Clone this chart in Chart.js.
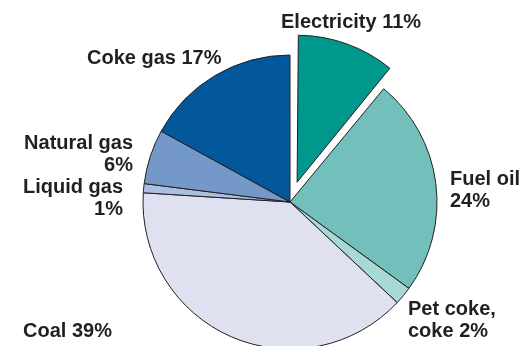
<!DOCTYPE html>
<html>
<head>
<meta charset="utf-8">
<script src="https://cdn.jsdelivr.net/npm/chart.js@4/dist/chart.umd.min.js"></script>
<style>
  html, body { margin: 0; padding: 0; background: #ffffff; overflow: hidden; }
  #wrap { width: 531px; height: 346px; }
</style>
</head>
<body>
<div id="wrap"><canvas id="energyPie" width="531" height="346"></canvas></div>
<script>
// energy sources, clockwise from 12 o'clock
var sources = ['Electricity', 'Fuel oil', 'Pet coke, coke', 'Coal', 'Liquid gas', 'Natural gas', 'Coke gas'];
var shares = [11, 24, 2, 39, 1, 6, 17];
var sliceColors = ['#00978c', '#72bfbc', '#a9d9d5', '#dfe1f1', '#aabfe1', '#7498c7', '#03589c'];
// arc offsets are drawn at a quarter of the value, so 84 pulls the slice out ~21px
var sliceOffsets = [84, 0, 0, 0, 0, 0, 0];

// where each label sits: left/right anchor, first baseline, words before the line break
var labelPlaces = [
    { x: 281, y: 28,  align: 'left',  breakAt: 0 },
    { x: 450, y: 185, align: 'left',  breakAt: 2 },
    { x: 408, y: 315, align: 'left',  breakAt: 2 },
    { x: 23,  y: 337, align: 'left',  breakAt: 0 },
    { x: 123, y: 193, align: 'right', breakAt: 2 },
    { x: 133, y: 149, align: 'right', breakAt: 2 },
    { x: 87,  y: 64,  align: 'left',  breakAt: 0 }
];

var pieRadius = 147;
var textColor = '#231f20';
var lineHeight = 22;

// an offset arc also grows by part of its offset; pull it back to the pie radius
var keepRadius = {
    id: 'keepRadius',
    beforeDatasetsDraw: function(chart) {
        chart.getDatasetMeta(0).data.forEach(function(arc, i) {
            var pull = sliceOffsets[i] / 4;
            var fix = 1 - Math.sin(Math.min(Math.PI, arc.circumference));
            arc.outerRadius = pieRadius - pull * fix;
        });
    }
};

var sliceLabels = {
    id: 'sliceLabels',
    afterDraw: function(chart) {
        var ctx = chart.ctx;
        ctx.save();
        ctx.font = 'bold 20px "Liberation Sans", Arial, sans-serif';
        ctx.fillStyle = textColor;
        ctx.textBaseline = 'alphabetic';
        for (var i = 0; i < sources.length; i++) {
            var place = labelPlaces[i];
            var words = (sources[i] + ' ' + shares[i] + '%').split(' ');
            var lines = place.breakAt > 0
                ? [words.slice(0, place.breakAt).join(' '), words.slice(place.breakAt).join(' ')]
                : [words.join(' ')];
            ctx.textAlign = place.align;
            for (var j = 0; j < lines.length; j++) {
                ctx.fillText(lines[j], place.x, place.y + j * lineHeight);
            }
        }
        ctx.restore();
    }
};

var ctx = document.getElementById('energyPie');
var pie = new Chart(ctx, {
    type: 'pie',
    data: {
        labels: sources,
        datasets: [{
            data: shares,
            backgroundColor: sliceColors,
            borderColor: '#231f20',
            borderWidth: 1,
            offset: sliceOffsets,
            hoverOffset: 0
        }]
    },
    options: {
        responsive: false,
        animation: false,
        events: [],
        radius: pieRadius,
        layout: {
            padding: { left: 49, right: 0, top: 58, bottom: 0 }
        },
        plugins: {
            legend: { display: false },
            tooltip: { enabled: false }
        }
    },
    plugins: [keepRadius, sliceLabels]
});
</script>
</body>
</html>
